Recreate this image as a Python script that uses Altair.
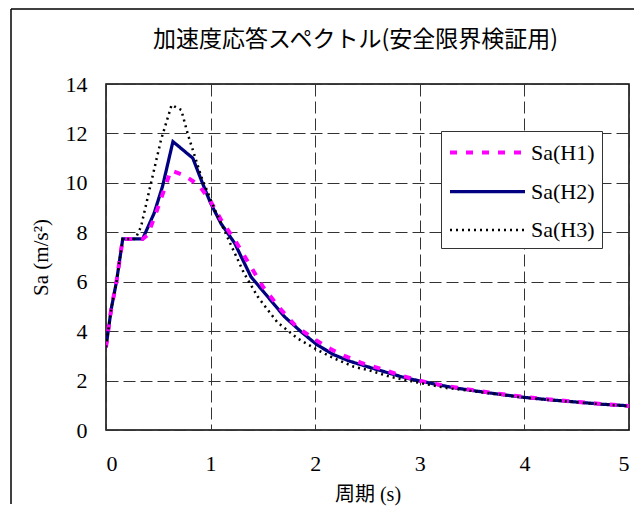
import altair as alt
import pandas as pd

# ---- data ----
series_names = ["Sa(H1)", "Sa(H2)", "Sa(H3)"]

t_h1 = [0, 0.05, 0.1, 0.16, 0.35, 0.40, 0.48, 0.55, 0.62, 0.75, 0.89, 1.0, 1.1, 1.23,
        1.386, 1.5, 1.66, 1.82, 1.98, 2.13, 2.28, 2.45, 2.64, 2.82, 3.01, 3.2, 3.5,
        3.75, 4.0, 4.25, 4.5, 4.75, 5.0]
sa_h1 = [3.35, 4.9, 6.0, 7.73, 7.73, 7.9, 8.8, 9.65, 10.5, 10.3, 9.9, 9.25, 8.5, 7.7,
         6.6, 5.8, 4.93, 4.18, 3.71, 3.31, 3.0, 2.7, 2.46, 2.2, 1.98, 1.82, 1.62,
         1.47, 1.34, 1.23, 1.14, 1.05, 0.97]

t_h2 = [0, 0.05, 0.1, 0.16, 0.35, 0.46, 0.54, 0.64, 0.83, 0.91, 1.0, 1.1, 1.23, 1.386,
        1.545, 1.705, 1.864, 2.02, 2.18, 2.34, 2.5, 2.66, 2.82, 2.98, 3.14, 3.3, 3.5,
        3.75, 4.0, 4.25, 4.5, 4.75, 5.0]
sa_h2 = [3.35, 4.9, 6.0, 7.73, 7.73, 8.77, 9.85, 11.67, 11.0, 10.12, 9.18, 8.35, 7.56,
         6.2, 5.4, 4.59, 3.98, 3.44, 3.04, 2.77, 2.56, 2.36, 2.16, 2.0, 1.86, 1.73,
         1.6, 1.45, 1.32, 1.22, 1.13, 1.04, 0.98]

t_h3 = [0, 0.05, 0.1, 0.16, 0.28, 0.335, 0.43, 0.526, 0.627, 0.72, 0.78, 0.845, 0.91,
        1.035, 1.18, 1.32, 1.45, 1.51, 1.64, 1.83, 2.02, 2.18, 2.37, 2.53, 2.71, 2.98,
        3.27, 3.5, 3.75, 4.0, 4.25, 4.5, 4.75, 5.0]
sa_h3 = [3.35, 4.9, 6.0, 7.73, 7.73, 8.23, 9.99, 11.74, 13.15, 12.95, 12.0, 11.13, 10.26,
         8.97, 7.62, 6.34, 5.4, 5.06, 4.35, 3.71, 3.24, 2.9, 2.56, 2.4, 2.16, 1.92,
         1.69, 1.58, 1.44, 1.31, 1.21, 1.12, 1.04, 0.96]

x_ticks = [0, 1, 2, 3, 4, 5]
y_ticks = [0, 2, 4, 6, 8, 10, 12, 14]

title_text = "加速度応答スペクトル(安全限界検証用)"
x_title = "周期 (s)"
y_title = "Sa (m/s²)"

# ---- styling ----
colors = ["#FF00FF", "#000080", "#000000"]
dashes = [[7, 9], [1, 0], [2, 4]]
widths = [4, 2.5]
SERIF = "Liberation Serif, Noto Sans CJK JP"

rows = []
for name, ts, vs in zip(series_names, [t_h1, t_h2, t_h3], [sa_h1, sa_h2, sa_h3]):
    for t, v in zip(ts, vs):
        rows.append({"series": name, "T": t, "Sa": v})
df = pd.DataFrame(rows)

legend = alt.Legend(
    title=None, orient="none", legendX=335, legendY=47,
    symbolType="M-1,0H5", symbolSize=625,
    labelFont=SERIF, labelFontSize=22, labelOffset=54, labelLimit=300,
    labelExpr="datum.label + '\u2002'",
    padding=7, rowPadding=13, strokeColor="#333333", fillColor="white",
)

enc = dict(
    x=alt.X("T:Q", scale=alt.Scale(domain=[0, 5], nice=False),
            axis=alt.Axis(values=x_ticks, title=x_title, format="d")),
    y=alt.Y("Sa:Q", scale=alt.Scale(domain=[0, 14], nice=False),
            axis=alt.Axis(values=y_ticks, title=y_title, format="d")),
    color=alt.Color("series:N", scale=alt.Scale(domain=series_names, range=colors),
                    legend=legend),
    strokeDash=alt.StrokeDash("series:N", scale=alt.Scale(domain=series_names, range=dashes),
                              legend=legend),
    strokeWidth=alt.StrokeWidth("series:N",
                                scale=alt.Scale(type="point", padding=0,
                                                domain=series_names, range=widths),
                                legend=legend),
)

base = alt.Chart(df).mark_line(clip=True)
lines = [base.encode(**enc).transform_filter(alt.datum.series == s)
         for s in ["Sa(H2)", "Sa(H1)", "Sa(H3)"]]

frame_df = pd.DataFrame({"k": [0]})
frame_left = alt.Chart(frame_df).mark_rule(color="black", strokeWidth=1.5, clip=False).encode(
    x=alt.value(-95), y=alt.value(-75), y2=alt.value(420))
frame_top = alt.Chart(frame_df).mark_rule(color="black", strokeWidth=1.5, clip=False).encode(
    x=alt.value(-95), x2=alt.value(528), y=alt.value(-75))

chart = alt.layer(frame_left, frame_top, *lines).properties(
    width=523, height=346,
    title=alt.TitleParams(title_text, font="Noto Sans CJK JP", fontSize=23,
                          fontWeight="normal", color="black", anchor="middle",
                          offset=-44, dx=-12),
    padding={"left": 98, "top": 76, "right": 5, "bottom": 77},
    autosize=alt.AutoSizeParams(type="none"),
    background="white",
).configure_view(
    stroke="black", strokeWidth=1.5
).configure_axis(
    labelFont=SERIF, labelFontSize=22, labelColor="black",
    titleFont=SERIF, titleFontWeight="normal", titleColor="black",
    grid=True, gridColor="#333333", gridDash=[12, 5], gridWidth=1,
    ticks=False, domain=False,
).configure_axisY(
    labelPadding=19, titleFontSize=21, titlePadding=14,
).configure_axisX(
    labelPadding=23, titleFontSize=20, titlePadding=10,
)

chart.save("out.html", embed_options={"renderer": "svg", "actions": False})
